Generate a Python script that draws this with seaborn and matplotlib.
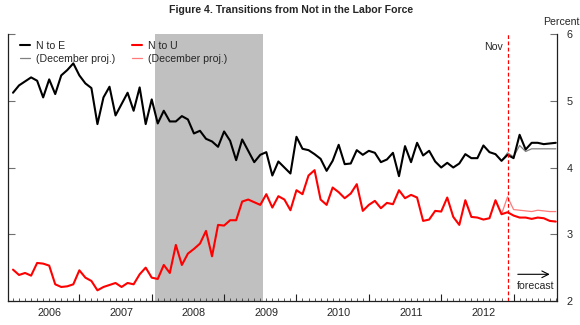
import numpy as np
import pandas as pd
import matplotlib
matplotlib.use("Agg")
import matplotlib.pyplot as plt
import seaborn as sns

sns.set_theme(style="white")
plt.rcParams["font.family"] = ["Liberation Sans", "DejaVu Sans"]

# Monthly transition rates (percent), month 0 = Jan 2006
n_to_e = [5.12, 5.23, 5.29, 5.35, 5.30, 5.05, 5.32, 5.10, 5.38, 5.46,
          5.56, 5.38, 5.26, 5.19, 4.65, 5.05, 5.21, 4.78, 4.95, 5.12,
          4.85, 5.20, 4.65, 5.02, 4.66, 4.85, 4.69, 4.69, 4.77, 4.72,
          4.51, 4.55, 4.43, 4.39, 4.31, 4.54, 4.40, 4.11, 4.42, 4.25,
          4.08, 4.19, 4.23, 3.88, 4.09, 4.00, 3.91, 4.46, 4.28, 4.26,
          4.20, 4.13, 3.95, 4.10, 4.34, 4.05, 4.06, 4.26, 4.19, 4.25,
          4.22, 4.08, 4.12, 4.22, 3.87, 4.32, 4.08, 4.37, 4.18, 4.25,
          4.09, 4.00, 4.07, 4.00, 4.06, 4.20, 4.14, 4.14, 4.33, 4.23,
          4.20, 4.10, 4.19, 4.14, 4.49, 4.27, 4.37, 4.37, 4.35, 4.36,
          4.37]
n_to_u = [2.47, 2.39, 2.42, 2.38, 2.57, 2.56, 2.53, 2.25, 2.21, 2.22,
          2.25, 2.46, 2.35, 2.30, 2.16, 2.21, 2.24, 2.27, 2.21, 2.27,
          2.25, 2.40, 2.50, 2.35, 2.33, 2.54, 2.42, 2.84, 2.54, 2.71,
          2.78, 2.86, 3.05, 2.67, 3.14, 3.13, 3.21, 3.21, 3.49, 3.52,
          3.48, 3.44, 3.60, 3.40, 3.57, 3.52, 3.36, 3.66, 3.60, 3.88,
          3.96, 3.52, 3.44, 3.70, 3.63, 3.54, 3.61, 3.75, 3.35, 3.44,
          3.50, 3.39, 3.47, 3.45, 3.66, 3.54, 3.59, 3.55, 3.20, 3.22,
          3.35, 3.34, 3.55, 3.26, 3.14, 3.51, 3.26, 3.25, 3.22, 3.24,
          3.51, 3.30, 3.33, 3.28, 3.25, 3.25, 3.23, 3.25, 3.24, 3.20,
          3.19]

# December projections, starting at month 81
proj_start = 81
n_to_e_dec = [4.10, 4.22, 4.16, 4.33, 4.24, 4.28, 4.28, 4.28, 4.28, 4.28]
n_to_u_dec = [3.30, 3.56, 3.37, 3.36, 3.35, 3.34, 3.36, 3.35, 3.34, 3.34]

year_labels = ["2006", "2007", "2008", "2009", "2010", "2011", "2012"]
recession = (23.5, 41.5)   # Dec 2007 - Jun 2009
nov_month = 82             # Nov 2012

months = np.arange(len(n_to_e))
df = pd.DataFrame({"month": months, "ne": n_to_e, "nu": n_to_u})
proj = pd.DataFrame({"month": np.arange(proj_start, proj_start + len(n_to_e_dec)),
                     "ne": n_to_e_dec, "nu": n_to_u_dec})

W, H = 580, 325
fig = plt.figure(figsize=(W / 100, H / 100), dpi=100)
ax = fig.add_axes([8 / W, 1 - 301 / H, (557 - 8) / W, (301 - 34) / H])

ax.axvspan(*recession, color="#c0c0c0", lw=0, zorder=0)

sns.lineplot(data=df, x="month", y="ne", color="black", lw=1.5,
             label="N to E", ax=ax, zorder=4)
sns.lineplot(data=proj, x="month", y="ne", color="#808080", lw=0.9,
             label="(December proj.)", ax=ax, zorder=3)
sns.lineplot(data=df, x="month", y="nu", color="#ff0000", lw=1.5,
             label="N to U", ax=ax, zorder=4)
sns.lineplot(data=proj, x="month", y="nu", color="#ff7a7a", lw=0.9,
             label="(December proj.)", ax=ax, zorder=3)

ax.axvline(nov_month, color="#ff0000", lw=0.9, ls=(0, (3, 2)), zorder=5)

ax.set_xlim(-0.83, 90.2)
ax.set_ylim(2, 6)
ax.set_xlabel("")
ax.set_ylabel("")

# x axis: monthly minor ticks, yearly major ticks, year labels centred on each year
ax.set_xticks(np.arange(11, 90, 12))
ax.set_xticklabels([])
ax.set_xticks(np.arange(0, 91), minor=True)
ax.tick_params(axis="x", which="major", direction="in", length=5, width=0.8,
               color="#202020", bottom=True)
ax.tick_params(axis="x", which="minor", direction="in", length=2.5, width=0.6,
               color="#404040", bottom=True)
for k, lab in enumerate(year_labels):
    ax.text(6 + 12 * k, -0.025, lab, transform=ax.get_xaxis_transform(),
            ha="center", va="top", fontsize=7.8)

# y axis: ticks on both sides, labels on the right
ax.set_yticks([2, 3, 4, 5, 6])
ax.tick_params(axis="y", left=True, right=True, labelleft=False, labelright=True,
               direction="in", length=5, width=0.8, color="#707070",
               labelsize=7.8, pad=7)

for side in ["left", "right", "bottom"]:
    ax.spines[side].set_visible(True)
    ax.spines[side].set_color("#202020")
    ax.spines[side].set_linewidth(0.9)
ax.spines["top"].set_visible(False)

ax.legend(ncol=2, loc="upper left", bbox_to_anchor=(0.014, 0.99), frameon=False,
          fontsize=7.6, handlelength=1.0, handletextpad=0.5, columnspacing=1.6,
          borderaxespad=0.0, labelspacing=0.3)

ax.text(nov_month - 0.8, 5.8, "Nov", ha="right", va="center", fontsize=7.6)
ax.annotate("", xy=(89.0, 2.40), xytext=(83.7, 2.40),
            arrowprops=dict(arrowstyle="->", color="black", lw=0.8,
                            shrinkA=0, shrinkB=0))
ax.text(86.7, 2.22, "forecast", ha="center", va="center", fontsize=7.6)

fig.text(1.0, 1 - 22 / H, "Percent", ha="right", va="center", fontsize=7.6)
fig.text(291 / W, 1 - 10 / H, "Figure 4. Transitions from Not in the Labor Force",
         ha="center", va="center", fontsize=7.6, fontweight="bold")

fig.savefig("out.png", dpi=100)
